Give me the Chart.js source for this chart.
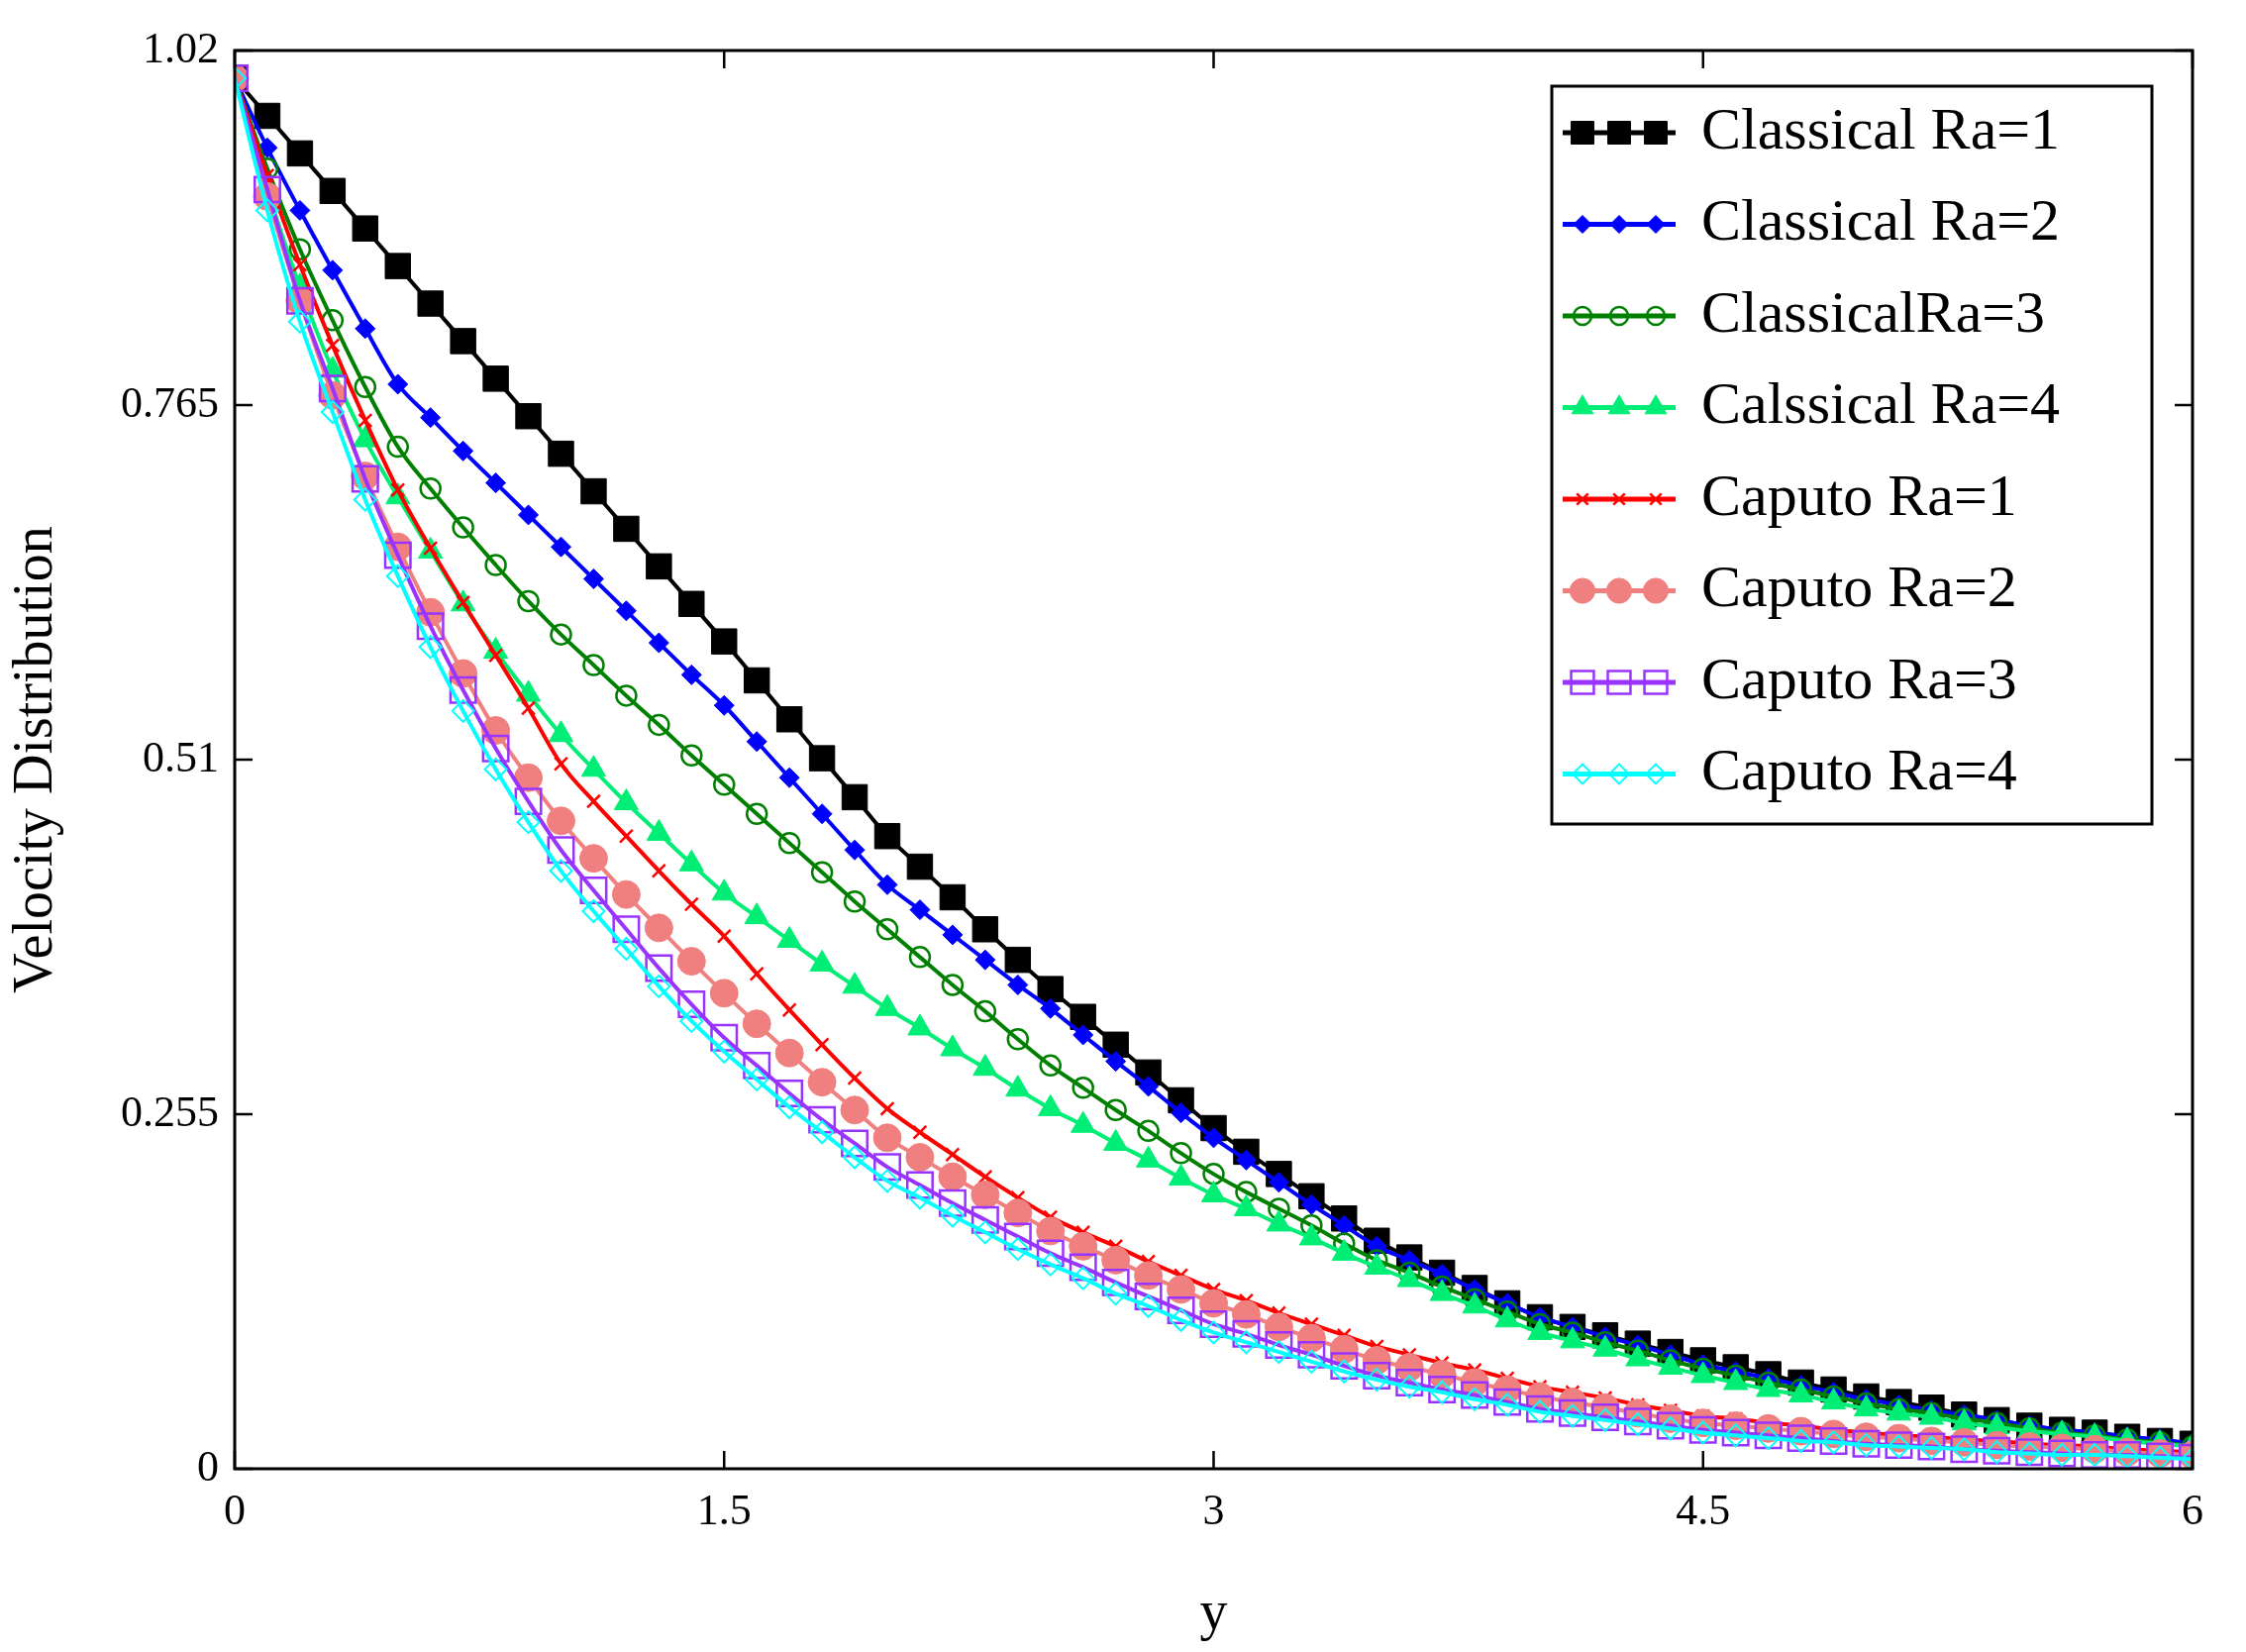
<!DOCTYPE html>
<html><head><meta charset="utf-8">
<script src="https://cdn.jsdelivr.net/npm/chart.js@4.4.1/dist/chart.umd.min.js"></script>
<style>html,body{margin:0;padding:0;background:#fff}canvas{display:block}</style>
</head><body>
<div style="width:2268px;height:1668px"><canvas id="c" width="2268" height="1668"></canvas></div>
<script>
const xValues = Array.from({length:61},(_,i)=>+(i*0.1).toFixed(1));
const xTicks = [0,1.5,3,4.5,6];
const yTicks = [0,0.255,0.51,0.765,1.02];
const labels = ["Classical Ra=1","Classical Ra=2","ClassicalRa=3","Calssical Ra=4","Caputo Ra=1","Caputo Ra=2","Caputo Ra=3","Caputo Ra=4"];
const classical1 = [1.000,.973,.946,.919,.892,.865,.838,.811,.784,.757,.730,.703,.676,.649,.622,.595,.567,.539,.511,.483,.455,.433,.411,.388,.366,.345,.325,.305,.285,.265,.245,.228,.212,.196,.180,.164,.152,.141,.130,.119,.109,.102,.096,.090,.084,.078,.073,.068,.062,.057,.052,.048,.044,.039,.035,.031,.028,.026,.023,.020,.018];
const classical2 = [1.000,.950,.905,.862,.820,.780,.756,.732,.709,.686,.663,.640,.617,.594,.571,.549,.523,.497,.471,.445,.420,.402,.384,.366,.348,.331,.312,.293,.275,.256,.238,.222,.206,.190,.175,.160,.150,.140,.129,.119,.109,.102,.095,.089,.082,.075,.070,.065,.060,.055,.050,.046,.042,.039,.035,.031,.028,.026,.023,.021,.018];
const classical3 = [1.000,.935,.877,.826,.778,.735,.705,.677,.650,.624,.600,.578,.556,.535,.513,.492,.471,.450,.429,.408,.388,.368,.348,.329,.309,.290,.274,.258,.243,.227,.212,.199,.187,.175,.162,.150,.141,.131,.122,.113,.104,.098,.091,.085,.078,.072,.067,.062,.057,.052,.047,.043,.040,.036,.033,.029,.026,.024,.021,.019,.016];
const classical4 = [1.000,.920,.850,.790,.740,.699,.660,.622,.588,.557,.528,.503,.479,.457,.435,.414,.397,.380,.363,.347,.331,.317,.302,.288,.273,.259,.247,.234,.222,.209,.197,.187,.176,.166,.155,.145,.136,.126,.117,.107,.098,.092,.086,.079,.073,.067,.062,.057,.053,.048,.043,.040,.037,.033,.030,.027,.025,.023,.020,.018,.016];
const caputo1 = [1.000,.930,.866,.808,.754,.704,.662,.623,.585,.547,.507,.480,.455,.430,.406,.383,.356,.330,.305,.281,.259,.242,.226,.210,.195,.181,.170,.160,.149,.139,.129,.121,.112,.104,.096,.088,.082,.076,.071,.065,.059,.055,.051,.046,.042,.038,.036,.033,.031,.028,.026,.024,.023,.021,.020,.018,.017,.016,.014,.013,.012];
const caputo2 = [1.000,.915,.840,.772,.714,.663,.616,.572,.531,.497,.466,.439,.413,.389,.365,.342,.320,.299,.278,.258,.238,.224,.210,.197,.184,.171,.160,.150,.139,.129,.119,.111,.102,.094,.086,.078,.073,.068,.062,.057,.052,.048,.044,.040,.036,.033,.031,.029,.027,.025,.023,.022,.020,.019,.017,.016,.015,.014,.012,.011,.010];
const caputo3 = [1.000,.920,.840,.777,.712,.657,.606,.560,.518,.480,.445,.416,.388,.360,.334,.310,.290,.270,.251,.234,.217,.204,.191,.179,.167,.155,.145,.134,.124,.114,.104,.097,.089,.082,.074,.067,.062,.057,.053,.048,.043,.040,.037,.034,.031,.028,.026,.024,.022,.020,.018,.017,.016,.014,.013,.012,.011,.010,.010,.009,.008];
const caputo4 = [1.000,.905,.825,.760,.697,.642,.591,.545,.503,.465,.430,.401,.374,.347,.322,.300,.280,.260,.242,.224,.207,.195,.182,.170,.158,.147,.137,.126,.117,.107,.098,.091,.084,.077,.070,.064,.059,.055,.050,.046,.041,.038,.035,.032,.029,.026,.024,.022,.020,.019,.017,.016,.015,.014,.012,.011,.010,.010,.009,.008,.007];

const series = [classical1,classical2,classical3,classical4,caputo1,caputo2,caputo3,caputo4];
const styles = [
 {c:'#000000', ps:'rect', r:18, fill:true, bw:1},
 {c:'#0000ff', ps:'rectRot', r:10, fill:true, bw:1},
 {c:'#008000', ps:'circle', r:10, fill:false, bw:2.5},
 {c:'#00ee76', ps:'triangle', r:14, fill:true, bw:1},
 {c:'#ff0000', ps:'crossRot', r:9, fill:false, bw:2.5},
 {c:'#f08080', ps:'circle', r:14, fill:true, bw:1},
 {c:'#9933ff', ps:'rect', r:18, fill:false, bw:2.5},
 {c:'#00ffff', ps:'rectRot', r:11, fill:false, bw:2}
];
const order=[7,6,5,4,3,2,1,0];
const datasets = series.map((s,i)=>({
  label:labels[i],
  data:s.map((v,j)=>({x:xValues[j],y:v})),
  borderColor:styles[i].c, borderWidth:4, cubicInterpolationMode:'monotone',
  pointStyle:styles[i].ps, pointRadius:styles[i].r,
  pointBackgroundColor:styles[i].fill?styles[i].c:'rgba(0,0,0,0)',
  pointBorderColor:styles[i].c, pointBorderWidth:styles[i].bw,
  order:order[i]
}));
const font = 'Liberation Serif';
const framePlugin = {
  id:'frame',
  afterDraw(chart){
    const {ctx,chartArea:a,scales:{x,y}} = chart;
    ctx.save();
    ctx.strokeStyle='#000'; ctx.lineWidth=3;
    ctx.strokeRect(a.left,a.top,a.right-a.left,a.bottom-a.top);
    ctx.lineWidth=2.5;
    xTicks.forEach(t=>{const px=x.getPixelForValue(t);ctx.beginPath();ctx.moveTo(px,a.bottom);ctx.lineTo(px,a.bottom-18);ctx.moveTo(px,a.top);ctx.lineTo(px,a.top+18);ctx.stroke();});
    yTicks.forEach(t=>{const py=y.getPixelForValue(t);ctx.beginPath();ctx.moveTo(a.left,py);ctx.lineTo(a.left+18,py);ctx.moveTo(a.right,py);ctx.lineTo(a.right-18,py);ctx.stroke();});
    const L=1567,T=87,W=606,H=745;
    ctx.fillStyle='#fff';ctx.fillRect(L,T,W,H);
    ctx.lineWidth=3;ctx.strokeRect(L,T,W,H);
    ctx.font='60px "'+font+'"';ctx.textBaseline='middle';ctx.fillStyle='#000';
    chart.data.datasets.forEach((d,i)=>{
      const cy=T+47+i*92.5;
      ctx.strokeStyle=d.borderColor;ctx.lineWidth=5;
      ctx.beginPath();ctx.moveTo(1578,cy);ctx.lineTo(1692,cy);ctx.stroke();
      [1598,1635,1672].forEach(mx=>{
        ctx.fillStyle=d.pointBackgroundColor;ctx.strokeStyle=d.pointBorderColor;ctx.lineWidth=d.pointBorderWidth;
        Chart.helpers.drawPoint(ctx,{pointStyle:d.pointStyle,radius:d.pointRadius*0.9,rotation:0,borderWidth:d.pointBorderWidth},mx,cy);
      });
      ctx.fillStyle='#000';ctx.fillText(d.label,1718,cy);
    });
    ctx.restore();
  }
};
new Chart(document.getElementById('c'),{
  type:'line',
  data:{datasets},
  options:{
    responsive:false,animation:false,
    layout:{padding:{top:51,right:54,left:0,bottom:0}},
    plugins:{legend:{display:false},tooltip:{enabled:false}},
    scales:{
      x:{type:'linear',min:0,max:6,
        afterBuildTicks(s){s.ticks=xTicks.map(v=>({value:v}));},
        afterFit(s){s.height=185;},
        grid:{display:false},border:{display:false},
        ticks:{font:{family:font,size:44},color:'#000',padding:10,callback:v=>String(v)},
        title:{display:true,text:'y',font:{family:font,size:56},color:'#000',padding:{top:24}}
      },
      y:{type:'linear',min:0,max:1.02,
        afterBuildTicks(s){s.ticks=yTicks.map(v=>({value:v}));},
        afterFit(s){s.width=237;},
        grid:{display:false},border:{display:false},
        ticks:{font:{family:font,size:44},color:'#000',padding:8,callback:v=>String(v)},
        title:{display:true,text:'Velocity Distribution',font:{family:font,size:56},color:'#000',padding:{bottom:14}}
      }
    }
  },
  plugins:[framePlugin]
});
</script>
</body></html>
